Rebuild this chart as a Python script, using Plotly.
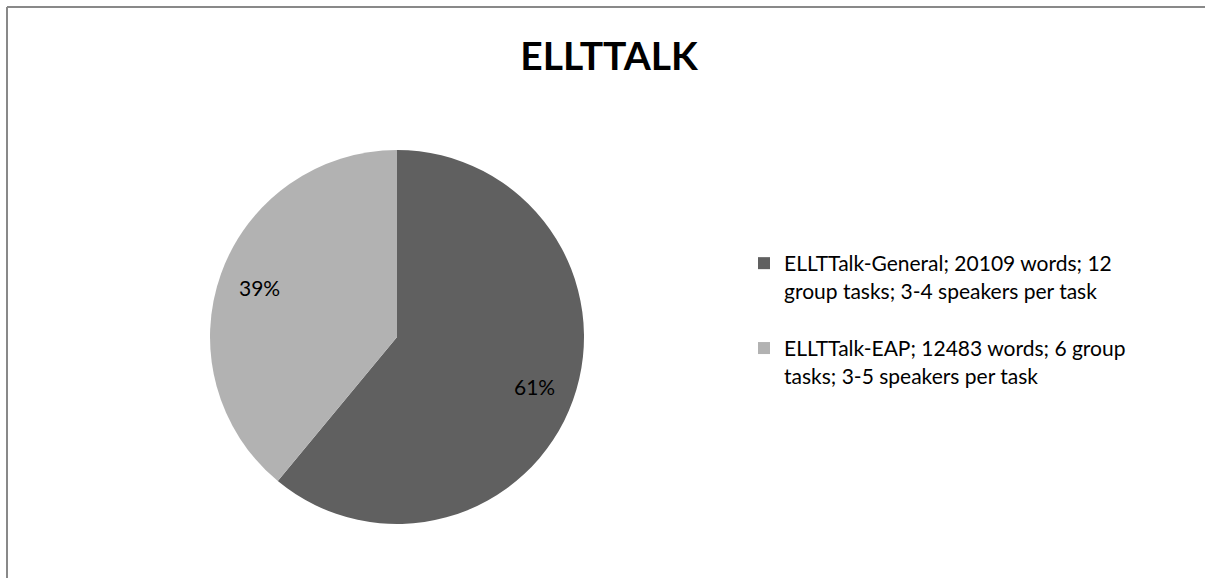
import math
import plotly.graph_objects as go

# Corpus composition (share of words, %)
labels = [
    "ELLTTalk-General; 20109 words; 12<br>group tasks; 3-4 speakers per task<br> ",
    "ELLTTalk-EAP; 12483 words; 6 group<br>tasks; 3-5 speakers per task",
]
shares = [61, 39]
colors = ["#606060", "#B2B2B2"]

W, H = 1205, 578
cx, cy, r = 397, 337, 187

fig = go.Figure(
    go.Pie(
        labels=labels,
        values=shares,
        sort=False,
        direction="clockwise",
        rotation=0,
        marker=dict(colors=colors, line=dict(width=0)),
        textinfo="none",
        domain=dict(x=[(cx - r) / W, (cx + r) / W], y=[1 - (cy + r) / H, 1 - (cy - r) / H]),
        hoverinfo="label+percent",
    )
)

# Percentage labels placed along each slice's mid-angle
total = sum(shares)
annotations = []
cum = 0
for v in shares:
    mid = 2 * math.pi * (cum + v / 2) / total
    cum += v
    px = cx + 0.78 * r * math.sin(mid)
    py = cy - 0.78 * r * math.cos(mid)
    annotations.append(
        dict(
            x=px / W,
            y=1 - py / H,
            xref="paper",
            yref="paper",
            text=f"{round(100 * v / total)}%",
            showarrow=False,
            xanchor="center",
            yanchor="middle",
            font=dict(family="Lato", size=21, color="#000000"),
        )
    )

# Chart-area frame (left and top edges)
frame = dict(color="#898989", width=2)
shapes = [
    dict(type="line", xref="paper", yref="paper",
         x0=7 / W, x1=7 / W, y0=0, y1=1 - 7 / H, line=frame),
    dict(type="line", xref="paper", yref="paper",
         x0=7 / W, x1=1, y0=1 - 7 / H, y1=1 - 7 / H, line=frame),
]

fig.update_layout(
    width=W,
    height=H,
    margin=dict(l=0, r=0, t=0, b=0),
    paper_bgcolor="white",
    plot_bgcolor="white",
    title=dict(
        text="<b>ELLTTALK</b>",
        x=609 / W,
        xanchor="center",
        y=1 - 56 / H,
        yanchor="middle",
        font=dict(family="Lato", size=39, color="#000000"),
    ),
    legend=dict(
        x=744 / W,
        xanchor="left",
        y=1 - 243 / H,
        yanchor="top",
        valign="top",
        font=dict(family="Lato", size=21, color="#000000"),
        bgcolor="rgba(0,0,0,0)",
        itemclick=False,
    ),
    annotations=annotations,
    shapes=shapes,
)

fig.write_html("out.html", config={"displayModeBar": False})
